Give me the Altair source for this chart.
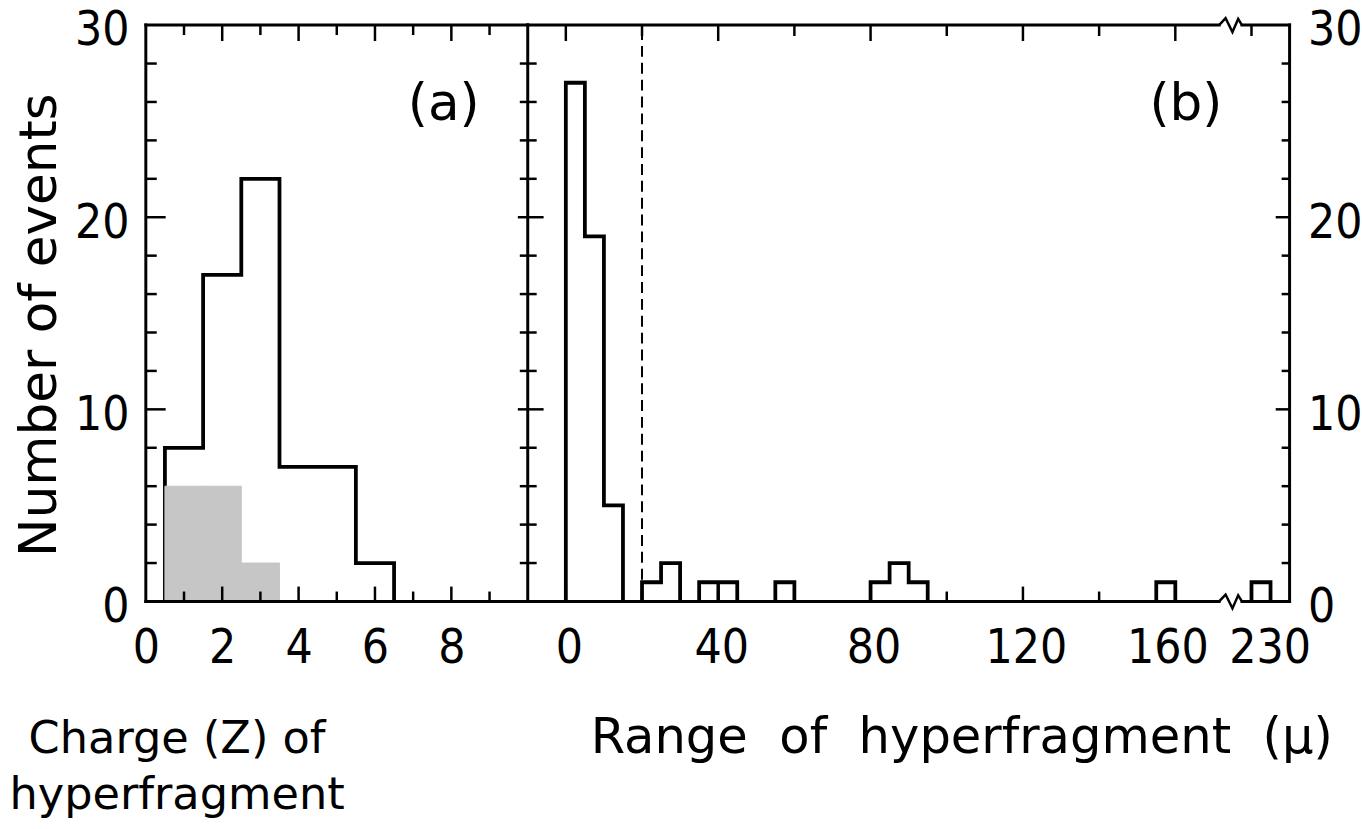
import altair as alt
import pandas as pd

# ---------------- data ----------------
# (a) charge of hyperfragment: histogram, bins of width 1 centred on Z
charge_z = [1, 2, 3, 4, 5, 6]
charge_counts = [8, 17, 22, 7, 7, 2]
# shaded sub-sample
shaded_z = [1, 2, 3]
shaded_counts = [6, 6, 2]

# (b) range of hyperfragment (microns): bins of width 5 (start of bin)
range_bin_starts = [0, 5, 10, 20, 25, 35, 40, 55, 80, 85, 90, 155, 230]
range_counts = [27, 19, 5, 1, 2, 1, 1, 1, 1, 2, 1, 1, 1]
range_bin_width = 5
range_dividers = [40]          # drawn separator between equal neighbouring bins
range_cut = 20                 # dashed vertical line

# axis break on range axis: values >= 200 are drawn shifted left by 50
break_from, break_to = 171.5, 177.5
break_threshold, break_offset = 200, 50

charge_label_values = [0, 2, 4, 6, 8]
range_label_values = [0, 40, 80, 120, 160]
range_label_after_break = 230
y_label_values = [0, 10, 20, 30]

charge_domain = [0, 10]
range_domain = [-10, 190]
count_domain = [0, 30]

W1, W2, H = 385, 768, 581
LABEL_FONT = "DejaVu Sans Condensed, DejaVu Sans, sans-serif"
TITLE_FONT = "DejaVu Sans"
GAP = " \u00a0"   # wide word gap as in the original lettering


def disp(v):
    return v - break_offset if v >= break_threshold else v


def outline(starts, counts, width, f=lambda v: v):
    rows, grp, idx, prev_end = [], -1, 0, None
    for s, c in zip(starts, counts):
        if prev_end is None or abs(s - prev_end) > 1e-9:
            if prev_end is not None:
                rows.append(dict(g=grp, i=idx, x=f(prev_end), y=0)); idx += 1
            grp += 1
            rows.append(dict(g=grp, i=idx, x=f(s), y=0)); idx += 1
        rows.append(dict(g=grp, i=idx, x=f(s), y=c)); idx += 1
        prev_end = s + width
    rows.append(dict(g=grp, i=idx, x=f(prev_end), y=0))
    return pd.DataFrame(rows)


xL = alt.Scale(domain=charge_domain, nice=False, zero=False)
xR = alt.Scale(domain=range_domain, nice=False, zero=False)
yS = alt.Scale(domain=count_domain, nice=False, zero=False)

BLACK = "black"


def tick_rules(values, chan, scale, a, b, width=2.5):
    df = pd.DataFrame({"v": values})
    if chan == "y":
        enc = dict(y=alt.Y("v:Q", scale=scale), x=alt.value(a), x2=alt.value(b))
    else:
        enc = dict(x=alt.X("v:Q", scale=scale), y=alt.value(a), y2=alt.value(b))
    return alt.Chart(df).mark_rule(color=BLACK, strokeWidth=width).encode(**enc)


def frame(segs, xs):
    df = pd.DataFrame(segs, columns=["x", "x2", "y", "y2"])
    return alt.Chart(df).mark_rule(color=BLACK, strokeWidth=3, strokeCap="square").encode(
        x=alt.X("x:Q", scale=xs), x2="x2:Q",
        y=alt.Y("y:Q", scale=yS), y2="y2:Q")


y_minor = [v for v in range(2, 30, 2) if v % 10]
y_major = [10, 20]

# ---------------- panel (a) ----------------
charge_df = outline([z - 0.5 for z in charge_z], charge_counts, 1)
shaded_df = pd.DataFrame({"x": [z - 0.5 for z in shaded_z],
                          "x2": [z + 0.5 for z in shaded_z],
                          "c": shaded_counts,
                          "b": [0] * len(shaded_z)})

a_shade = alt.Chart(shaded_df).mark_rect(
    fill="#c6c6c6", stroke="#c6c6c6", strokeWidth=1).encode(
    x=alt.X("x:Q", scale=xL), x2="x2:Q",
    y=alt.Y("c:Q", scale=yS), y2="b:Q")

a_line = alt.Chart(charge_df).mark_line(
    interpolate="step-after", color=BLACK, strokeWidth=3.8).encode(
    x=alt.X("x:Q", scale=xL, axis=alt.Axis(
        values=charge_label_values, title=["Charge (Z) of", "hyperfragment"],
        labelPadding=24, labelFlush=False, titleX=31, titleY=152, titleAlign="center",
        titleBaseline="alphabetic", titleLineHeight=57, titleFontSize=45)),
    y=alt.Y("y:Q", scale=yS, axis=alt.Axis(
        values=y_label_values, title="Number of events", labelPadding=17, labelOffset=6,
        titleX=-107, titleY=302, titleAngle=270, titleAlign="center",
        titleBaseline="middle", titleFontSize=52)),
    detail="g:N", order="i:Q")

a_frame = frame([(charge_domain[0], charge_domain[1], count_domain[0], count_domain[0]),
                 (charge_domain[0], charge_domain[1], count_domain[1], count_domain[1]),
                 (charge_domain[0], charge_domain[0], count_domain[0], count_domain[1]),
                 (charge_domain[1], charge_domain[1], count_domain[0], count_domain[1])], xL)

odd = [1, 3, 5, 7, 9]
even = [2, 4, 6, 8]
a_ticks = [
    tick_rules(y_minor, "y", yS, 0, 11),
    tick_rules(y_major, "y", yS, 0, 20),
    tick_rules(y_minor, "y", yS, W1 - 8, W1 + 9),
    tick_rules(y_major, "y", yS, W1 - 10, W1 + 16),
    tick_rules(odd, "x", xL, 0, 10),
    tick_rules(even, "x", xL, 0, 16),
    tick_rules(odd, "x", xL, H, H - 10),
    tick_rules(even, "x", xL, H, H - 15),
]

a_text = alt.Chart(pd.DataFrame({"x": [7.8], "y": [25.9], "t": ["(a)"]})).mark_text(
    font=TITLE_FONT, fontSize=52, color=BLACK).encode(
    x=alt.X("x:Q", scale=xL), y=alt.Y("y:Q", scale=yS), text="t:N")

panel_a = alt.layer(a_line, a_shade, a_frame, *a_ticks, a_text).properties(width=W1, height=H)

# ---------------- panel (b) ----------------
range_df = outline(range_bin_starts, range_counts, range_bin_width, disp)

div_rows = []
for d in range_dividers:
    left = [c for s, c in zip(range_bin_starts, range_counts) if s + range_bin_width == d]
    right = [c for s, c in zip(range_bin_starts, range_counts) if s == d]
    div_rows.append({"x": disp(d), "h": min(left + right), "b": 0})
b_div = alt.Chart(pd.DataFrame(div_rows)).mark_rule(color=BLACK, strokeWidth=3.5).encode(
    x=alt.X("x:Q", scale=xR), y=alt.Y("h:Q", scale=yS), y2="b:Q")

label_pos = range_label_values + [disp(range_label_after_break) + 4]
b_line = alt.Chart(range_df).mark_line(
    interpolate="step-after", color=BLACK, strokeWidth=3.8).encode(
    x=alt.X("x:Q", scale=xR, axis=alt.Axis(
        values=label_pos, labelPadding=24, labelFlush=False,
        labelOffset={"condition": {"test": "datum.value == 160", "value": -8}, "value": 3},
        labelExpr=f"datum.value > {break_from} ? '{range_label_after_break}' : datum.label",
        title="Range" + GAP + "of" + GAP + "hyperfragment" + GAP + "(\u03bc)",
        titleX=437, titleY=152, titleAlign="center", titleBaseline="alphabetic",
        titleFontSize=50)),
    y=alt.Y("y:Q", scale=yS, axis=alt.Axis(values=y_label_values, orient="right",
                                           labelPadding=18, labelOffset=6, title="")),
    detail="g:N", order="i:Q")

b_cut = alt.Chart(pd.DataFrame({"x": [range_cut]})).mark_rule(
    color=BLACK, strokeWidth=2, strokeDash=[11, 6]).encode(
    x=alt.X("x:Q", scale=xR), y=alt.value(4), y2=alt.value(H))

b_frame = frame([(range_domain[0], break_from, 0, 0), (break_to, range_domain[1], 0, 0),
                 (range_domain[0], break_from, 30, 30), (break_to, range_domain[1], 30, 30),
                 (range_domain[1], range_domain[1], 0, 30)], xR)

zig_x = [break_from, 173.2, 175.0, 176.5, break_to]
zig_dy = [0, 0.36, -0.36, 0.32, 0]
zig_rows = []
for gname, base in (("bottom", 0), ("top", 30)):
    for i, (zx, zd) in enumerate(zip(zig_x, zig_dy)):
        zig_rows.append({"g": gname, "i": i, "x": zx, "y": base + zd})
b_zig = alt.Chart(pd.DataFrame(zig_rows)).mark_line(color=BLACK, strokeWidth=2.5).encode(
    x=alt.X("x:Q", scale=xR), y=alt.Y("y:Q", scale=yS),
    detail="g:N", order="i:Q")

r_long = [0, 40, 80, 120, 160]
r_short = [20, 60, 100, 140, 180]
b_ticks = [
    tick_rules(y_minor, "y", yS, W2, W2 - 8),
    tick_rules(y_major, "y", yS, W2, W2 - 14),
    tick_rules(r_long, "x", xR, 0, 16),
    tick_rules(r_short, "x", xR, 0, 11),
    tick_rules(r_long, "x", xR, H, H - 15),
    tick_rules(r_short, "x", xR, H, H - 10),
]

b_text = alt.Chart(pd.DataFrame({"x": [162.8], "y": [25.9], "t": ["(b)"]})).mark_text(
    font=TITLE_FONT, fontSize=52, color=BLACK).encode(
    x=alt.X("x:Q", scale=xR), y=alt.Y("y:Q", scale=yS), text="t:N")

panel_b = alt.layer(b_line, b_cut, b_div, b_frame, b_zig, *b_ticks, b_text).properties(
    width=W2, height=H)

chart = alt.hconcat(panel_a, panel_b, spacing=0, bounds="flush").properties(
    padding={"left": 8, "top": 4, "right": 0, "bottom": 0},
    background="white",
).configure_view(stroke=None).configure_axis(
    domain=False, ticks=False, tickSize=0, grid=False,
    labelFont=LABEL_FONT, labelFontSize=48, labelColor=BLACK,
    titleFont=TITLE_FONT, titleFontSize=48, titleFontWeight="normal", titleColor=BLACK,
)

chart.save("out.html", embed_options={"renderer": "svg", "actions": False})
